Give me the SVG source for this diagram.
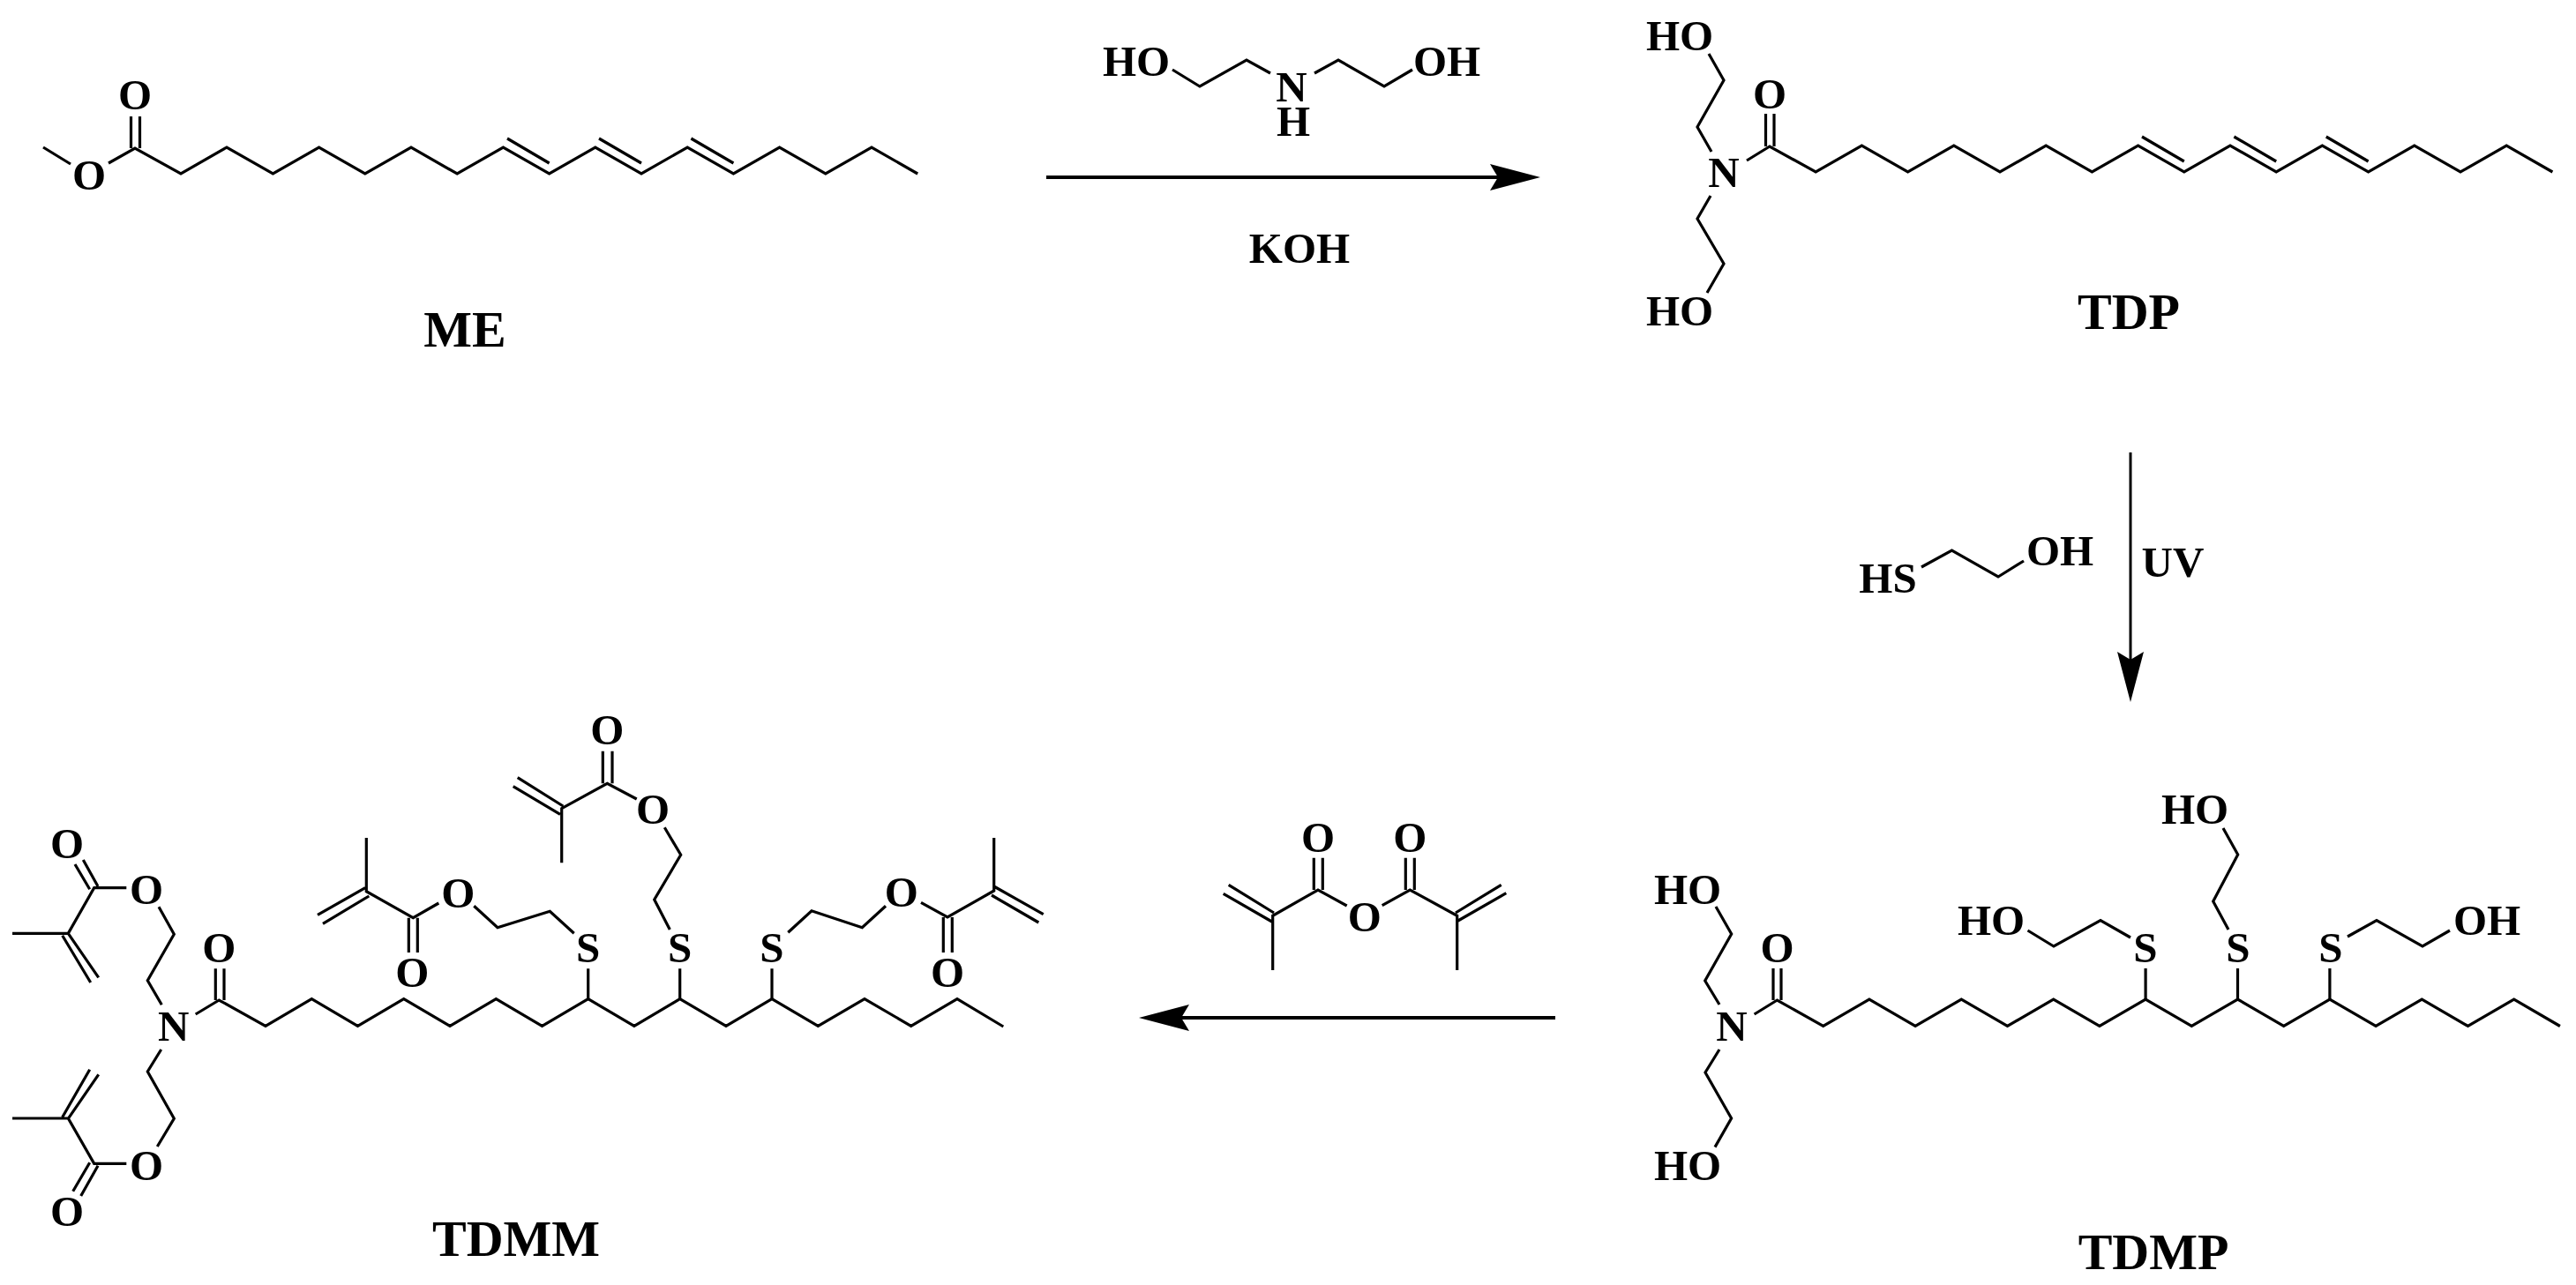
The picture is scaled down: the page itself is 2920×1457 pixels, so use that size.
<svg xmlns="http://www.w3.org/2000/svg" width="2920" height="1457" viewBox="0 0 2920 1457">
<style>
text{font-family:"Liberation Serif","Times New Roman",serif;fill:#000;text-anchor:middle;font-weight:bold}
.a{font-size:49px}
.l{font-size:58px}
.b{fill:none;stroke:#000;stroke-width:3.2;stroke-linejoin:miter;stroke-linecap:butt}
.c{fill:none;stroke:#000;stroke-width:4}
.t{fill:none;stroke:#000;stroke-width:3}
</style>
<defs>
<marker id="h" markerUnits="userSpaceOnUse" markerWidth="60" markerHeight="32" refX="9" refY="16" orient="auto"><path d="M0 1 L57 16 L0 31 L9 16Z" fill="#000"/></marker>
</defs>
<rect width="2920" height="1457" fill="#fff"/>
<g id="connectors">
<path class="c" d="M1186 201H1698" marker-end="url(#h)"/>
<path class="t" d="M2415 513V748" marker-end="url(#h)"/>
<path class="c" d="M1763 1154H1339" marker-end="url(#h)"/>
</g>
<g id="ME">
<path class="b" d="M49 167L80 186M123 185L153 168L205 197L257 167L309.400 197L361.600 167L413.800 197L466 167L518.200 197L570.400 167L622.600 197L674.800 167L727 197L779.200 167L831.400 197L883.600 167L935.800 197L988 167L1040.200 197"/>
<path class="b" d="M148.500 132V168M158.500 132V168M575 157L622.600 185M679 157L727 185M783.400 157L831.400 185"/>
<text class="a" x="153" y="124">O</text><text class="a" x="101" y="215">O</text>
<text class="l" x="527" y="393">ME</text>
</g>
<g id="DEA">
<path class="b" d="M1329 79L1360 98L1413 68L1440 83M1490 83L1517 68L1569 98L1601 79"/>
<text class="a" x="1288" y="86">HO</text><text class="a" x="1640" y="86">OH</text><text class="a" x="1464" y="115">N</text><text class="a" x="1466" y="154">H</text>
</g>
<g id="KOH"><text class="a" x="1473" y="298">KOH</text></g>
<g id="TDP">
<path class="b" d="M1937 61L1954 91L1924 144L1940 172M1939 222L1924 248L1954 299L1935 332M1980 182L2006 166L2058.200 195L2110.400 165L2162.600 195L2214.800 165L2267 195L2319.200 165L2371.400 195L2423.600 165L2475.800 195L2528 165L2580.200 195L2632.400 165L2684.600 195L2736.800 165L2789 195L2841.200 165L2893.400 195"/>
<path class="b" d="M2001.500 129V166M2011 129V166M2428 155L2475.800 183M2532.400 155L2580.200 183M2636.800 155L2684.600 183"/>
<text class="a" x="1904" y="57">HO</text><text class="a" x="1904" y="369">HO</text><text class="a" x="1954" y="212">N</text><text class="a" x="2006" y="123">O</text>
<text class="l" x="2413" y="373">TDP</text>
</g>
<g id="mercaptoethanol">
<path class="b" d="M2178 643L2212.500 624L2265 654L2294 636"/>
<text class="a" x="2140" y="672">HS</text><text class="a" x="2335" y="641">OH</text>
</g>
<g id="UV"><text class="a" x="2463" y="654">UV</text></g>
<g id="TDMP">
<path class="b" d="M1945 1028L1962.700 1059L1932.700 1112L1949 1139M1949 1190L1933 1216L1962.600 1268L1944 1300.600M1988.600 1150L2014.500 1134L2066.700 1163.500L2118.900 1133L2171.100 1163.500L2223.300 1133L2275.500 1163.500L2327.700 1133L2379.900 1163.500L2432.100 1133L2484.300 1163.500L2536.500 1133L2588.700 1163.500L2640.900 1133L2693.100 1163.500L2745.300 1133L2797.500 1163.500L2849.700 1133L2901.900 1163.500"/>
<path class="b" d="M2010 1098V1134M2019 1098V1134M2432.100 1098V1133M2536.500 1098V1133M2640.900 1098V1133"/>
<path class="b" d="M2415 1063L2381 1043.500L2328 1073L2298.500 1055M2526 1054L2508.700 1022L2536.700 969L2520 939M2661 1062L2694 1043.500L2746 1073L2777 1055"/>
<text class="a" x="1913" y="1025">HO</text><text class="a" x="1913" y="1338">HO</text><text class="a" x="1963" y="1180">N</text><text class="a" x="2014.500" y="1091">O</text>
<text class="a" x="2257" y="1060">HO</text><text class="a" x="2488" y="934">HO</text><text class="a" x="2819" y="1060">OH</text>
<text class="a" x="2432" y="1091">S</text><text class="a" x="2537" y="1091">S</text><text class="a" x="2642" y="1091">S</text>
<text class="l" x="2441" y="1439">TDMP</text>
</g>
<g id="anhydride">
<path class="b" d="M1489.300 972.700V1009M1499.300 972.700V1009M1593.300 972.700V1009M1603.300 972.700V1009"/>
<path class="b" d="M1442.700 1100V1038.300L1494 1009L1526.700 1027M1566.700 1026.700L1598.300 1009L1651.700 1038.300V1100M1392.700 1003.300L1444 1035M1386.700 1013.300L1441.700 1045M1701.700 1003.300L1650 1035M1707.300 1012.700L1652.700 1044"/>
<text class="a" x="1494" y="966">O</text><text class="a" x="1598.300" y="966">O</text><text class="a" x="1546.700" y="1056">O</text>
</g>
<g id="TDMM">
<path class="b" d="M221.700 1150L248.300 1134L301 1163.300L353.300 1132.700L405.500 1163.300L457.700 1132.700L510 1163.300L562.300 1132.700L614.500 1163.300L666.700 1132.700L718.900 1163.300L770.700 1132.700L823 1163.300L875 1132.700L927.300 1163.300L980 1132.700L1032.700 1163.300L1085 1132.700L1137.300 1164"/>
<path class="b" d="M244.300 1098.300V1134M254 1098.300V1134M666.700 1098.300V1132.700M770.700 1098.300V1132.700M875 1098.300V1132.700"/>
<path class="b" d="M183.300 1139.300L167.300 1111.700L197.300 1059.300L180 1028.300M143.300 1006.700H106.700L77.300 1058.300H14M94.300 975L111 1005M85 980L101.700 1008.300M77.300 1058.300L111.700 1108.300M70.700 1060.700L102.700 1114"/>
<path class="b" d="M182.700 1190L167.300 1215L197.300 1268.300L178.300 1300M143.300 1319.300H106.700L77.300 1268H14M111 1321.700L91.700 1356M101.700 1318.300L82.700 1350.700M77.300 1268.300L111.700 1218.300M70.700 1266.700L101.700 1212.700"/>
<path class="b" d="M650.700 1058.300L623.300 1033.300L564 1051.700L537.300 1027.300M497.300 1024L468.300 1040.700L415.300 1010.700V950M463.300 1040.700V1080M473.300 1040.700V1080M360 1037.300L414 1006.700M366 1047.300L418.300 1016"/>
<path class="b" d="M759.300 1054L741.700 1020L771.700 969.300L753.300 938.300M721.700 906L688.300 888.300L636.700 916.700V978.300M683.300 851.700V888.300M694 851.700V888.300M586.700 881.700L638.300 914M581.700 891.700L635 923.300"/>
<path class="b" d="M893.300 1057.300L920 1032.700L977.300 1051.700L1004 1027.300M1044 1023.300L1074 1040L1126.700 1010V950M1069.300 1040V1080M1079.300 1040V1080M1126.700 1005L1182.700 1036.700M1124 1015L1177.300 1046"/>
<text class="a" x="166" y="1025">O</text><text class="a" x="76" y="973">O</text><text class="a" x="166" y="1338">O</text><text class="a" x="76" y="1390">O</text>
<text class="a" x="196.700" y="1180">N</text><text class="a" x="248.300" y="1091">O</text>
<text class="a" x="666.700" y="1091">S</text><text class="a" x="770.700" y="1091">S</text><text class="a" x="875" y="1091">S</text>
<text class="a" x="519.300" y="1029">O</text><text class="a" x="467.300" y="1119">O</text>
<text class="a" x="740" y="934">O</text><text class="a" x="688.300" y="844">O</text>
<text class="a" x="1021.700" y="1028">O</text><text class="a" x="1074" y="1119">O</text>
<text class="l" x="585" y="1424">TDMM</text>
</g>
</svg>
